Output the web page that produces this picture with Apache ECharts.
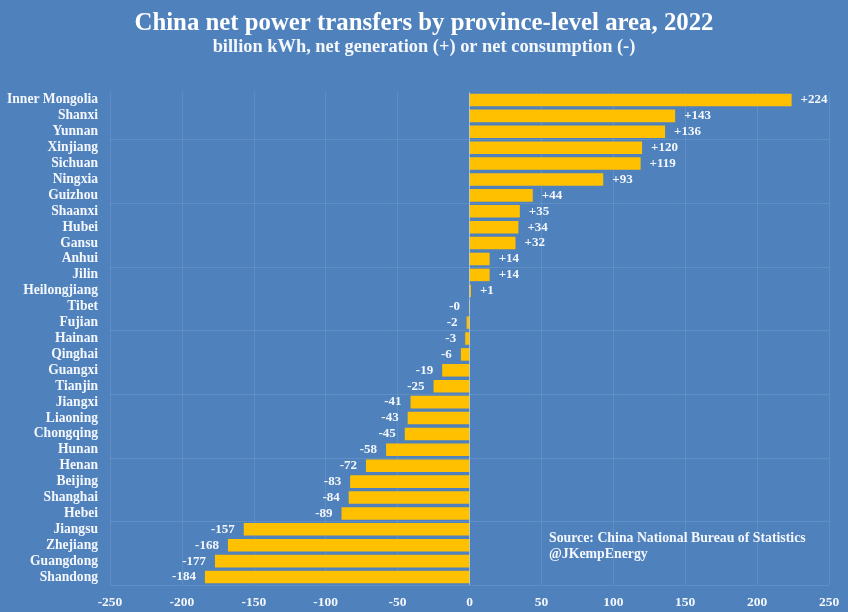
<!DOCTYPE html>
<html>
<head>
<meta charset="utf-8">
<title>China net power transfers</title>
<style>
html,body{margin:0;padding:0;background:#4f81bd;}
#con{width:848px;height:612px;}
</style>
<script src="https://cdn.jsdelivr.net/npm/echarts@6/dist/echarts.min.js"></script>
</head>
<body>
<div id="con"></div>
<script>
var provinces = ['Inner Mongolia','Shanxi','Yunnan','Xinjiang','Sichuan','Ningxia','Guizhou','Shaanxi','Hubei','Gansu','Anhui','Jilin','Heilongjiang','Tibet','Fujian','Hainan','Qinghai','Guangxi','Tianjin','Jiangxi','Liaoning','Chongqing','Hunan','Henan','Beijing','Shanghai','Hebei','Jiangsu','Zhejiang','Guangdong','Shandong'];
var transfers = [224,143,136,120,119,93,44,35,34,32,14,14,1,-0.3,-2,-3,-6,-19,-25,-41,-43,-45,-58,-72,-83,-84,-89,-157,-168,-177,-184];
var serif = '"Liberation Serif", serif';

var myChart = echarts.init(document.getElementById('con'));

var option = {
	animation: false,
	backgroundColor: '#4f81bd',
	title: [{
		text: 'China net power transfers by province-level area, 2022',
		left: 'center',
		top: 6,
		textStyle: {color: '#fff', fontFamily: serif, fontWeight: 'bold', fontSize: 24.8}
	}, {
		text: 'billion kWh, net generation (+) or net consumption (-)',
		left: 'center',
		top: 33,
		textStyle: {color: '#f4f7fb', fontFamily: serif, fontWeight: 'bold', fontSize: 18.4}
	}, {
		text: 'Source: China National Bureau of Statistics\n@JKempEnergy',
		left: 544,
		top: 525,
		textStyle: {color: '#f4f7fb', fontFamily: serif, fontWeight: 'bold', fontSize: 13.8, lineHeight: 16}
	}],
	grid: {left: 110, right: 19, top: 92, bottom: 27},
	xAxis: {
		type: 'value',
		min: -250,
		max: 250,
		interval: 50,
		axisLine: {show: false},
		axisTick: {show: false},
		axisLabel: {color: '#f4f7fb', fontFamily: serif, fontWeight: 'bold', fontSize: 13.5, margin: 11},
		splitLine: {show: true, lineStyle: {color: 'rgba(255,255,255,0.1)', width: 1}}
	},
	yAxis: {
		type: 'category',
		data: provinces,
		inverse: true,
		axisLine: {show: false},
		axisTick: {show: false},
		axisLabel: {color: '#f4f7fb', fontFamily: serif, fontWeight: 'bold', fontSize: 13.6, margin: 12, interval: 0, padding: [2, 0, 0, 0]},
		splitLine: {
			show: true,
			interval: function (index) { return index % 4 == 3; },
			lineStyle: {color: 'rgba(255,255,255,0.1)', width: 1}
		}
	},
	series: [{
		type: 'bar',
		data: transfers.map(function (v) {
			return {
				value: v,
				label: {position: v < 0 ? 'left' : 'right'}
			};
		}),
		barWidth: '79%',
		itemStyle: {color: '#ffc000'},
		label: {
			show: true,
			distance: 9,
			color: '#f4f7fb',
			fontFamily: serif,
			fontWeight: 'bold',
			fontSize: 13,
			padding: [2, 0, 0, 0],
			formatter: function (p) {
				return (p.value < 0 ? '-' : '+') + Math.abs(Math.round(p.value));
			}
		},
		markLine: {
			silent: true,
			symbol: 'none',
			label: {show: false},
			lineStyle: {color: 'rgba(255,255,255,0.4)', width: 1, type: 'solid'},
			data: [{xAxis: 0}]
		}
	}]
};

myChart.setOption(option);
window.onresize = myChart.resize;
</script>
</body>
</html>
